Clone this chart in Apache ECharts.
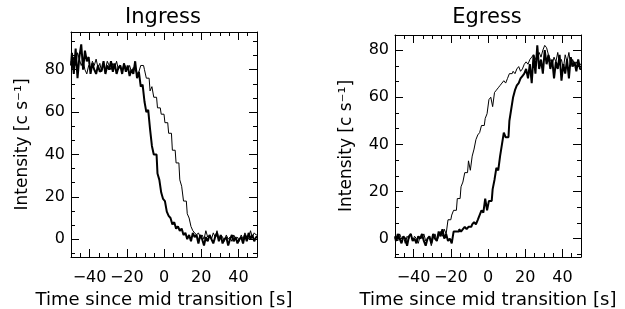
<!DOCTYPE html>
<html>
<head>
<meta charset="utf-8">
<script src="https://cdn.jsdelivr.net/npm/echarts@6/dist/echarts.min.js"></script>
<style>
html, body { margin: 0; padding: 0; background: #fff; }
#chart { width: 625px; height: 309px; }
</style>
</head>
<body>
<div id="chart"></div>
<script>
// time bins, 1 s wide, -50 .. 50
var tStart = -50;

var ingressThick = [82, 88, 78, 90, 76, 86, 92, 80, 89, 84,
    86, 78, 83, 80, 78, 82, 79, 80, 84, 78,
    82, 80, 84, 79, 83, 78, 81, 82, 78, 83,
    79, 82, 77, 80, 78,
    84, 76, 79, 72, 73, 65, 60, 61, 52, 44,
    40, 40, 31, 28, 22, 19, 18, 13, 11, 10,
    7, 8, 5, 6, 4,
    5, 2, 3, 0, 2, -1, 3, 1, 2, -2,
    2, 0, -3, 1, -1, 2, 0, -2, 1, 3,
    -1, 2, -2, 0, 1, -3, 0, 2, -1, 1,
    -2, 0, 1, -2, 2, -1, 3, 0, 2, -1, 1];

var ingressThin = [84, 80, 86, 82, 88, 85, 82, 84, 80, 78,
    82, 80, 84, 82, 85, 81, 83, 79, 82, 80,
    84, 82, 80, 83, 81, 84, 80, 82, 79, 83,
    81, 80, 82, 79, 81, 80, 78, 79,
    82, 82, 80, 76, 76, 70, 72, 67, 67, 62,
    62, 59, 59, 55, 55, 50, 50, 42, 42, 36,
    36, 28, 25, 18, 18, 12, 10, 6, 4,
    3, 2, 3, 1, 2, 0, 4, 1, 2, 0,
    3, 1, 4, 0, 2, 1, -1, 2, 0, 1,
    -1, 2, 0, 1, -1, 2, 0, 3, 1, 0,
    4, 1, 3, 2];

var egressThin = [0, 1, -1, 2, 0, 1, -2, 1, 0, 2,
    -1, 1, 0, -2, 1, 0, 2, -1, 0, 1,
    -3, 0, 2, -1,
    1, 3, 1, 4, 2, 8, 8, 10, 12, 12,
    17, 17, 22, 24, 28, 28, 33, 29, 35, 38,
    42, 44, 45, 48, 48, 51, 53, 59, 60, 56,
    62, 63, 64, 65, 66, 67, 66, 68, 70,
    70, 71, 70, 72, 73, 71, 72, 74, 75, 74,
    76, 77, 78, 76, 78, 79, 77, 80, 82, 81,
    78, 76, 74, 77, 75, 79, 74, 76, 72, 78,
    75, 79, 73, 76, 74, 75, 73, 74];

var egressThick = [1, -1, 2, 0, -2, 1, 0, -3, 1, 2,
    -1, 0, -2, 1, 0, 2, -1, -3, 0, 1,
    -2, 2, 0, -1, 3, 1, 4, 0, 2, -1,
    0, -2, 3, 3, 3, 4, 3, 4, 5, 4,
    5, 5, 6, 7, 6, 8, 10, 12, 11, 17,
    12, 16, 16, 21, 25, 30, 29, 35, 40, 45,
    43, 43, 50, 55, 60, 63, 65, 66, 68, 69, 70,
    72, 68, 74, 66, 78, 70, 82, 72, 76, 70,
    80, 74, 78, 72, 76, 68, 75, 72, 78, 67,
    74, 70, 76, 68, 77, 73, 75, 71, 76, 72];

var panelTitles = ['Ingress', 'Egress'];
var xTickLabels = [-40, -20, 0, 20, 40];
var yTickLabels = [0, 20, 40, 60, 80];

function pairs(vals) {
    var out = [];
    for (var i = 0; i < vals.length; i++) {
        out.push([tStart + i, vals[i]]);
    }
    return out;
}

function minus(v) {
    return String(v).replace('-', '\u2212');
}

var ink = '#000';
var fontFam = 'DejaVu Sans';

var grids = [
    {left: 71, top: 32, width: 186, height: 225, outerBoundsMode: 'none'},
    {left: 395, top: 35, width: 186, height: 222, outerBoundsMode: 'none'}
];
var yRanges = [[-8.4, 97.8], [-7.8, 86.4]];

var minorX = [];
for (var v = -45; v <= 45; v += 5) { if (v % 20 !== 0) minorX.push(v); }

var lineOn = {show: true, onZero: false, lineStyle: {color: ink, width: 1}};
var lineOff = {show: false, onZero: false};

var xAxes = [], yAxes = [];
grids.forEach(function (g, gi) {
    var base = {type: 'value', gridIndex: gi, min: -50, max: 50, splitLine: {show: false}};
    // bottom: labels + major ticks
    xAxes.push(Object.assign({}, base, {
        position: 'bottom',
        name: 'Time since mid transition [s]',
        nameLocation: 'middle', nameGap: 34,
        nameTextStyle: {fontFamily: fontFam, fontSize: 18, color: ink},
        axisLine: lineOn,
        axisTick: {show: true, inside: true, length: 8, customValues: xTickLabels, lineStyle: {color: ink}},
        axisLabel: {show: true, customValues: xTickLabels, formatter: minus, margin: 13,
                    fontFamily: fontFam, fontSize: 16, color: ink}
    }));
    xAxes.push(Object.assign({}, base, {
        position: 'bottom',
        axisLine: lineOff,
        axisTick: {show: true, inside: true, length: 4, customValues: minorX, lineStyle: {color: ink}},
        axisLabel: {show: false}
    }));
    xAxes.push(Object.assign({}, base, {
        position: 'top',
        axisLine: lineOn,
        axisTick: {show: true, inside: true, length: 8, customValues: xTickLabels, lineStyle: {color: ink}},
        axisLabel: {show: false}
    }));
    xAxes.push(Object.assign({}, base, {
        position: 'top',
        axisLine: lineOff,
        axisTick: {show: true, inside: true, length: 4, customValues: minorX, lineStyle: {color: ink}},
        axisLabel: {show: false}
    }));

    var r = yRanges[gi];
    var minorY = [];
    for (var k = -1; k <= 15; k++) {
        var val = k * 20 / 3;
        if (k % 3 !== 0 && val > r[0] && val < r[1]) minorY.push(val);
    }
    var ybase = {type: 'value', gridIndex: gi, min: r[0], max: r[1], splitLine: {show: false}};
    yAxes.push(Object.assign({}, ybase, {
        position: 'left',
        name: 'Intensity [c s\u207B\u00B9]',
        nameLocation: 'middle', nameGap: 40,
        nameTextStyle: {fontFamily: fontFam, fontSize: 17, color: ink},
        axisLine: lineOn,
        axisTick: {show: true, inside: true, length: 8, customValues: yTickLabels, lineStyle: {color: ink}},
        axisLabel: {show: true, customValues: yTickLabels, margin: 6, fontFamily: fontFam, fontSize: 16, color: ink}
    }));
    yAxes.push(Object.assign({}, ybase, {
        position: 'left',
        axisLine: lineOff,
        axisTick: {show: true, inside: true, length: 4, customValues: minorY, lineStyle: {color: ink}},
        axisLabel: {show: false}
    }));
    yAxes.push(Object.assign({}, ybase, {
        position: 'right',
        axisLine: lineOn,
        axisTick: {show: true, inside: true, length: 8, customValues: yTickLabels, lineStyle: {color: ink}},
        axisLabel: {show: false}
    }));
    yAxes.push(Object.assign({}, ybase, {
        position: 'right',
        axisLine: lineOff,
        axisTick: {show: true, inside: true, length: 4, customValues: minorY, lineStyle: {color: ink}},
        axisLabel: {show: false}
    }));
});

function stepSeries(vals, gi, width) {
    return {
        type: 'line', step: 'middle',
        xAxisIndex: gi * 4, yAxisIndex: gi * 4,
        data: pairs(vals),
        symbol: 'none', silent: true, animation: false,
        lineStyle: {color: ink, width: width},
        clip: true
    };
}

var chart = echarts.init(document.getElementById('chart'));
chart.setOption({
    backgroundColor: '#fff',
    animation: false,
    title: [
        {text: panelTitles[0], left: 158, top: 2, textAlign: 'center',
         textStyle: {fontFamily: fontFam, fontSize: 21, fontWeight: 'normal', color: ink}},
        {text: panelTitles[1], left: 482, top: 2, textAlign: 'center',
         textStyle: {fontFamily: fontFam, fontSize: 21, fontWeight: 'normal', color: ink}}
    ],
    grid: grids,
    xAxis: xAxes,
    yAxis: yAxes,
    series: [
        stepSeries(ingressThin, 0, 1),
        stepSeries(ingressThick, 0, 2),
        stepSeries(egressThin, 1, 1),
        stepSeries(egressThick, 1, 2)
    ]
});
</script>
</body>
</html>
